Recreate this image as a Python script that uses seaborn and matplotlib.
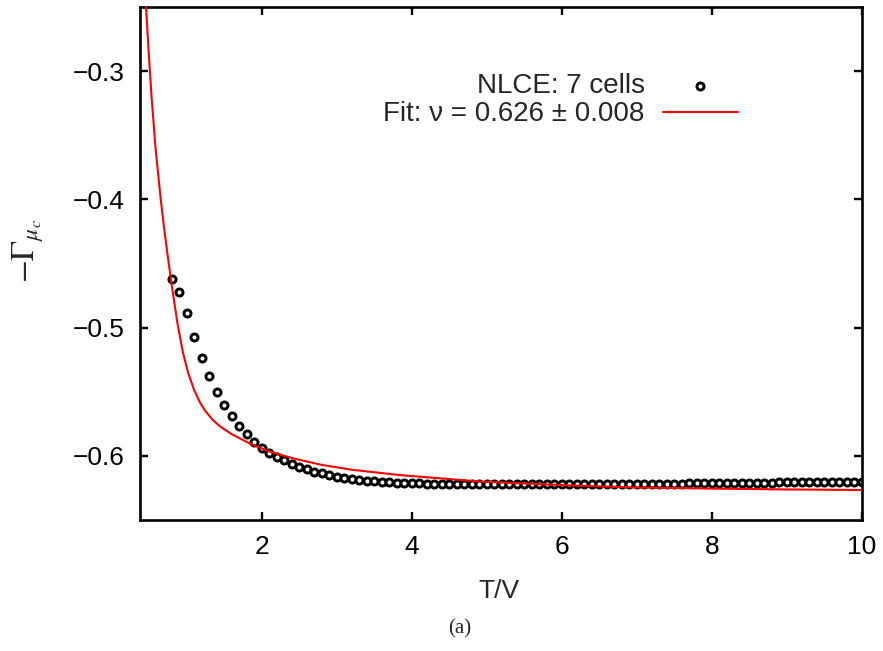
import matplotlib
matplotlib.use("Agg")
import matplotlib.pyplot as plt
import seaborn as sns
import pandas as pd

# NLCE data (7 cells): temperature T/V and -Gamma_mu_c
t_nlce = [0.8, 0.9, 1.0, 1.1, 1.2, 1.3, 1.4, 1.5, 1.6, 1.7,
          1.8, 1.9, 2.0, 2.1, 2.2, 2.3, 2.4, 2.5, 2.6, 2.7,
          2.8, 2.9, 3.0, 3.1, 3.2, 3.3, 3.4, 3.5, 3.6, 3.7,
          3.8, 3.9, 4.0, 4.1, 4.2, 4.3, 4.4, 4.5, 4.6, 4.7,
          4.8, 4.9, 5.0, 5.1, 5.2, 5.3, 5.4, 5.5, 5.6, 5.7,
          5.8, 5.9, 6.0, 6.1, 6.2, 6.3, 6.4, 6.5, 6.6, 6.7,
          6.8, 6.9, 7.0, 7.1, 7.2, 7.3, 7.4, 7.5, 7.6, 7.7,
          7.8, 7.9, 8.0, 8.1, 8.2, 8.3, 8.4, 8.5, 8.6, 8.7,
          8.8, 8.9, 9.0, 9.1, 9.2, 9.3, 9.4, 9.5, 9.6, 9.7,
          9.8, 9.9, 10.0]
g_nlce = [-0.4621, -0.4722, -0.4888, -0.5072, -0.5233, -0.5378, -0.5502, -0.5603, -0.5688, -0.5764,
          -0.5828, -0.5890, -0.5935, -0.5975, -0.6005, -0.6035, -0.6062, -0.6085, -0.6105, -0.6122,
          -0.6136, -0.6149, -0.6161, -0.6172, -0.6181, -0.6188, -0.6194, -0.6199, -0.6203, -0.6206,
          -0.6209, -0.6211, -0.6213, -0.6215, -0.6216, -0.6217, -0.6218, -0.6219, -0.6220, -0.6220,
          -0.6221, -0.6221, -0.6222, -0.6222, -0.6222, -0.6222, -0.6222, -0.6222, -0.6222, -0.6222,
          -0.6222, -0.6222, -0.6222, -0.6222, -0.6222, -0.6221, -0.6221, -0.6221, -0.6221, -0.6220,
          -0.6220, -0.6220, -0.6219, -0.6219, -0.6218, -0.6218, -0.6217, -0.6216, -0.6216, -0.6215,
          -0.6215, -0.6214, -0.6213, -0.6213, -0.6212, -0.6211, -0.6211, -0.6210, -0.6209, -0.6209,
          -0.6208, -0.6207, -0.6207, -0.6206, -0.6205, -0.6205, -0.6204, -0.6203, -0.6203, -0.6202,
          -0.6201, -0.6201, -0.6200]

# Fitted curve, nu = 0.626 +/- 0.008
t_fit = [0.46, 0.50, 0.536, 0.588, 0.656, 0.70, 0.744, 0.80, 0.877, 0.95,
         1.02, 1.10, 1.18, 1.25, 1.35, 1.447, 1.60, 1.847, 2.10, 2.424,
         2.80, 3.20, 3.85, 4.91, 6.00, 6.91, 8.00, 8.91, 10.0]
g_fit = [-0.2500, -0.2900, -0.3220, -0.3610, -0.4000, -0.4220, -0.4420, -0.4660, -0.4960, -0.5190,
         -0.5350, -0.5485, -0.5585, -0.5650, -0.5720, -0.5770, -0.5830, -0.5905, -0.5965, -0.6020,
         -0.6070, -0.6108, -0.6150, -0.6200, -0.6228, -0.6245, -0.6255, -0.6261, -0.6266]

x_ticks = [2, 4, 6, 8, 10]
y_ticks = [-0.6, -0.5, -0.4, -0.3]

nlce = pd.DataFrame({"T/V": t_nlce, "gamma": g_nlce})
fit = pd.DataFrame({"T/V": t_fit, "gamma": g_fit})

sns.set_theme(style="ticks")
plt.rcParams["font.family"] = ["Liberation Sans", "DejaVu Sans"]
plt.rcParams["axes.unicode_minus"] = True
FS = 19
FS_LEG = 20

fig = plt.figure(figsize=(8.83, 6.51), dpi=100)
ax = fig.add_axes([0.1586, 0.2012, 0.8176, 0.788])

sns.scatterplot(data=nlce, x="T/V", y="gamma", ax=ax, marker="o", s=26,
                facecolor="white", edgecolor="black", linewidth=2.1,
                legend=False, zorder=2)
sns.lineplot(data=fit, x="T/V", y="gamma", ax=ax, color="#ff0000",
             linewidth=1.5, sort=False, estimator=None, legend=False, zorder=3)

ax.set_xlim(0.38, 10)
ax.set_ylim(-0.65, -0.25)
ax.set_xticks(x_ticks)
ax.set_yticks(y_ticks)
ax.set_xticklabels([str(v) for v in x_ticks])
ax.set_yticklabels([f"{v:.1f}".replace("-", "\u2212") for v in y_ticks])

for sp in ax.spines.values():
    sp.set_visible(True)
    sp.set_linewidth(1.9)
    sp.set_color("black")
ax.tick_params(direction="in", length=5.5, width=1.7, top=True, right=True,
               labelsize=FS, pad=11, colors="black")

ax.set_xlabel("T/V", fontsize=FS)
ax.xaxis.set_label_coords(0.497, -0.115)
ax.set_ylabel(r"$-\Gamma_{\mu_c}$", fontsize=FS + 5, math_fontfamily="stix")
ax.yaxis.set_label_coords(-0.13, 0.525)

# Legend in two rows, text right-aligned, sample on the right
dots = ax.collections[0]
curve = ax.lines[0]
leg1 = ax.legend([dots], ["NLCE: 7 cells"], loc="center right",
                 bbox_to_anchor=(0.828, 0.846), frameon=False, markerfirst=False,
                 fontsize=FS_LEG, handlelength=2.7, handletextpad=0.65,
                 borderpad=0, borderaxespad=0, scatterpoints=1)
ax.add_artist(leg1)
ax.legend([curve], ["Fit: \u03bd = 0.626 \u00b1 0.008"], loc="center right",
          bbox_to_anchor=(0.828, 0.791), frameon=False, markerfirst=False,
          fontsize=FS_LEG, handlelength=2.7, handletextpad=0.65,
          borderpad=0, borderaxespad=0)

fig.text(0.521, 0.034, "(a)", ha="center", va="center", fontsize=15,
         family=["Liberation Serif", "DejaVu Serif"])

fig.savefig("out.png", dpi=100, facecolor="white")
